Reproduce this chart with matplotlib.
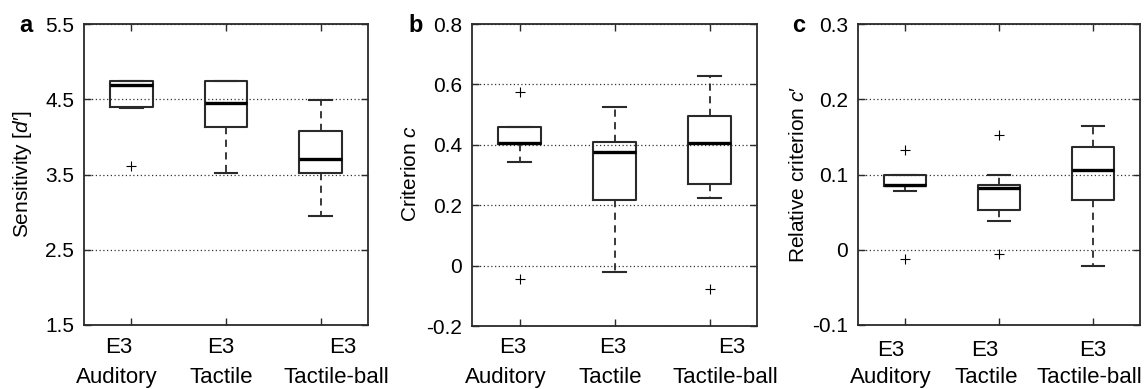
import matplotlib
matplotlib.use("Agg")
import matplotlib.pyplot as plt

plt.rcParams['font.family'] = ['Liberation Sans', 'DejaVu Sans']
plt.rcParams['mathtext.fontset'] = 'custom'
plt.rcParams['mathtext.it'] = 'Liberation Sans:italic'
plt.rcParams['mathtext.rm'] = 'Liberation Sans'

# ---- data ----
prefix = "E3"
categories = ["Auditory", "Tactile", "Tactile-ball"]

# panel a: Sensitivity d'
a_whislo = [4.38, 3.525, 2.95]
a_q1 = [4.40, 4.135, 3.525]
a_med = [4.685, 4.45, 3.71]
a_q3 = [4.738, 4.738, 4.078]
a_whishi = [4.738, 4.738, 4.494]
a_fliers = [[3.617], [], []]

# panel b: Criterion c
b_whislo = [0.343, -0.020, 0.225]
b_q1 = [0.403, 0.216, 0.269]
b_med = [0.407, 0.376, 0.407]
b_q3 = [0.460, 0.408, 0.496]
b_whishi = [0.460, 0.524, 0.628]
b_fliers = [[0.575, -0.045], [], [-0.079]]

# panel c: Relative criterion c'
c_whislo = [0.078, 0.0386, -0.022]
c_q1 = [0.085, 0.0524, 0.0666]
c_med = [0.0856, 0.0825, 0.1055]
c_q3 = [0.100, 0.0856, 0.137]
c_whishi = [0.100, 0.100, 0.164]
c_fliers = [[0.132, -0.012], [0.152, -0.006], []]

a_ticks = [1.5, 2.5, 3.5, 4.5, 5.5]
a_ticklabels = ["1.5", "2.5", "3.5", "4.5", "5.5"]
b_ticks = [-0.2, 0, 0.2, 0.4, 0.6, 0.8]
b_ticklabels = ["-0.2", "0", "0.2", "0.4", "0.6", "0.8"]
c_ticks = [-0.1, 0, 0.1, 0.2, 0.3]
c_ticklabels = ["-0.1", "0", "0.1", "0.2", "0.3"]

W, H = 1145, 389
fig = plt.figure(figsize=(W / 100, H / 100), dpi=100)

def frac(l, r, t, b):
    return [l / W, (H - b) / H, (r - l) / W, (b - t) / H]

panels = [
    dict(rect=frac(84, 368, 24, 325), lo=a_whislo, q1=a_q1, med=a_med, q3=a_q3, hi=a_whishi,
         fl=a_fliers, ticks=a_ticks, tl=a_ticklabels, ylabel=r"Sensitivity [$d$′]",
         letter="a", letter_x=26, ylabel_x=23,
         off1=[-13, -5, 22], off2=[-15, -5, 16], base1=28, base2=58),
    dict(rect=frac(472, 757, 24, 326), lo=b_whislo, q1=b_q1, med=b_med, q3=b_q3, hi=b_whishi,
         fl=b_fliers, ticks=b_ticks, tl=b_ticklabels, ylabel=r"Criterion $c$",
         letter="b", letter_x=416, ylabel_x=410,
         off1=[-7, -2, 22], off2=[-14, -4, 16], base1=27, base2=57),
    dict(rect=frac(858, 1140, 24, 325), lo=c_whislo, q1=c_q1, med=c_med, q3=c_q3, hi=c_whishi,
         fl=c_fliers, ticks=c_ticks, tl=c_ticklabels, ylabel=r"Relative criterion $c$′",
         letter="c", letter_x=799, ylabel_x=799,
         off1=[-14, -14, 0], off2=[-14, -13, -4], base1=31, base2=58),
]

edge = "#2a2a2a"
for p in panels:
    ax = fig.add_axes(p["rect"])
    stats = []
    for i in range(len(categories)):
        stats.append(dict(med=p["med"][i], q1=p["q1"][i], q3=p["q3"][i],
                          whislo=p["lo"][i], whishi=p["hi"][i], fliers=p["fl"][i]))
    pos = list(range(1, len(categories) + 1))
    ax.bxp(stats, positions=pos, widths=0.45, capwidths=0.24, showfliers=True,
           boxprops=dict(color=edge, linewidth=1.5),
           medianprops=dict(color="black", linewidth=2.4),
           whiskerprops=dict(color=edge, linewidth=1.3, linestyle=(0, (4, 3))),
           capprops=dict(color=edge, linewidth=1.5),
           flierprops=dict(marker="+", markersize=7, markeredgecolor="black",
                           markeredgewidth=0.8, linestyle="none"))
    ax.set_xlim(0.5, len(categories) + 0.5)
    ax.set_ylim(p["ticks"][0], p["ticks"][-1])
    ax.set_yticks(p["ticks"])
    ax.set_yticklabels(p["tl"], fontsize=15)
    ax.set_xticks(pos)
    ax.set_xticklabels([])
    ax.tick_params(axis="both", direction="in", length=5, width=1, color=edge,
                   top=True, right=True, pad=7)
    ax.yaxis.grid(True, linestyle=(0, (1, 2)), color="#333333", linewidth=0.9)
    ax.set_axisbelow(True)
    for s in ax.spines.values():
        s.set_color(edge)
        s.set_linewidth(1.3)
    for i, cat in enumerate(categories):
        ax.annotate(prefix, xy=(pos[i], 0), xycoords=("data", "axes fraction"),
                    xytext=(p["off1"][i], -p["base1"]), textcoords="offset pixels",
                    ha="center", va="baseline", fontsize=16)
        ax.annotate(cat, xy=(pos[i], 0), xycoords=("data", "axes fraction"),
                    xytext=(p["off2"][i], -p["base2"]), textcoords="offset pixels",
                    ha="center", va="baseline", fontsize=16)
    # y label
    fig.text(p["ylabel_x"] / W, (H - 174) / H, p["ylabel"], rotation=90,
             ha="center", va="center", fontsize=15)
    fig.text(p["letter_x"] / W, (H - 26) / H, p["letter"], ha="center", va="center",
             fontsize=17, fontweight="bold")

fig.savefig("out.png", dpi=100)
